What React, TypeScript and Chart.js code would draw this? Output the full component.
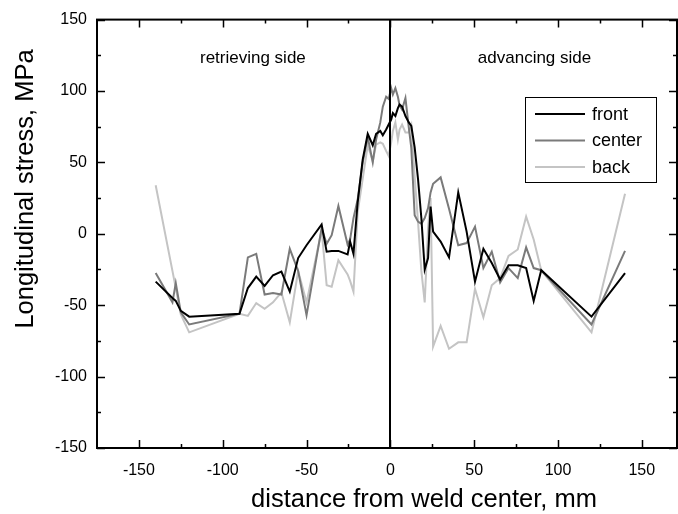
import React, { useEffect, useRef } from "react";
import { Chart, registerables } from "chart.js";

Chart.register(...registerables);

// distance from weld center, mm
const X_MM = [
  -140, -130, -128, -125, -120, -90, -85, -80, -75, -70, -65, -60, -55, -50,
  -41, -38, -35, -31, -25.5, -24, -22, -19.5, -16.5, -13.5, -10.5, -8.5, -6,
  -4.5, -2.5, -1, 0.5, 1.5, 3, 4.5, 5.5, 7, 9, 11, 12.5, 14.5, 16.5, 18.5,
  20.5, 22.5, 24, 25.5, 30, 35, 40.5, 45.5, 50.5, 55.5, 60.5, 65.5, 70.5, 76,
  81, 85.5, 90, 120, 140,
];

// Longitudinal stress, MPa
const FRONT = [
  -33.5, -45, -47, -54, -58, -56, -38, -30, -36.5, -29, -26.5, -40.5, -17, -8,
  6.5, -12.5, -12, -12, -14.5, -5.5, -14, 22, 52, 70, 62, 70, 72,
  69, 73, 76.5, 80, 84.5, 82.5, 88, 90.5, 89, 82.5, 78, 75.5, 60.5, 38.5, 11,
  -25, -17, 19, 1.5, -5.5, -16.5, 29, 1.5, -33.5, -10.5, -20.5, -32, -22, -22,
  -24, -47, -25.5, -58, -27.5,
];

const CENTER = [
  -27.5, -48, -34.5, -55, -63.5, -56, -16.5, -14, -42.5, -41.5, -42.5, -10.5, -26, -57,
  4, -7, -1, 19.5, -7.5, -4, 11, 24, 50, 68, 50, 66, 78,
  89, 96, 94.5, 102, 97.5, 102, 96, 90, 87, 95, 74.5, 60, 13, 8.5, 7,
  11, 18, 29, 35, 39.5, 17.5, -8, -6.5, 5, -24, -12.5, -34, -24, -31,
  -9.5, -24, -25.5, -63.5, -12,
];

const BACK = [
  34, -26, -38, -56.5, -69, -56, -57.5, -48.5, -52.5, -48, -41, -62, -26, -48,
  2.5, -36, -37, -18.5, -28.5, -33, -40.5, 15, 38.5, 62, 51, 62.5, 64,
  63, 58, 54.5, 64, 72, 78, 66, 73, 76.5, 71, 71, 76, 40, 8.5, -26,
  -48, 4, 25, -79, -64.5, -80.5, -76, -76, -38.5, -58.5, -36, -31, -15.5, -11,
  12, -4, -25.5, -69, 28,
];

const SERIES_LABELS = ["front", "center", "back"];
const SERIES_COLORS = ["#000000", "#7a7a7a", "#c4c4c4"];
const X_TICKS = [-150, -100, -50, 0, 50, 100, 150];
const Y_TICKS = [-150, -100, -50, 0, 50, 100, 150];
const SIDE_LABELS = ["retrieving side", "advancing side"];
const SIDE_LABEL_X = [-82, 86];
const SIDE_LABEL_Y = 123;
const X_TITLE = "distance from weld center, mm";
const Y_TITLE = "Longitudinal stress, MPa";

const FONT = "'Liberation Sans', Arial, Helvetica, sans-serif";

const framePlugin = {
  id: "frame",
  afterDatasetsDraw(chart: any) {
    const { ctx, chartArea, scales } = chart;
    const xs = scales.x;
    const ys = scales.y;
    const { left, right, top, bottom } = chartArea;
    ctx.save();
    ctx.strokeStyle = "#000";
    ctx.lineCap = "butt";

    // zero line
    ctx.lineWidth = 2;
    const x0 = Math.round(xs.getPixelForValue(0));
    ctx.beginPath();
    ctx.moveTo(x0, top);
    ctx.lineTo(x0, bottom);
    ctx.stroke();

    // frame
    ctx.lineWidth = 2;
    ctx.strokeRect(left, top, right - left, bottom - top);

    // inward ticks
    ctx.lineWidth = 1.5;
    for (let v = -150; v <= 150; v += 25) {
      const len = v % 50 === 0 ? 8 : 4;
      const px = Math.round(xs.getPixelForValue(v)) + 0.5;
      ctx.beginPath();
      ctx.moveTo(px, bottom);
      ctx.lineTo(px, bottom - len);
      ctx.moveTo(px, top);
      ctx.lineTo(px, top + len);
      ctx.stroke();
      const py = Math.round(ys.getPixelForValue(v)) + 0.5;
      ctx.beginPath();
      ctx.moveTo(left, py);
      ctx.lineTo(left + len, py);
      ctx.moveTo(right, py);
      ctx.lineTo(right - len, py);
      ctx.stroke();
    }

    // side annotations
    ctx.fillStyle = "#000";
    ctx.font = `17px ${FONT}`;
    ctx.textAlign = "center";
    ctx.textBaseline = "middle";
    SIDE_LABELS.forEach((t, i) => {
      ctx.fillText(t, xs.getPixelForValue(SIDE_LABEL_X[i]), ys.getPixelForValue(SIDE_LABEL_Y));
    });

    // legend
    const lx = 525, ly = 97, lw = 131, lh = 85;
    ctx.fillStyle = "#fff";
    ctx.fillRect(lx, ly, lw, lh);
    ctx.lineWidth = 1;
    ctx.strokeStyle = "#000";
    ctx.strokeRect(lx + 0.5, ly + 0.5, lw, lh);
    ctx.font = `18px ${FONT}`;
    ctx.textAlign = "left";
    ctx.textBaseline = "middle";
    SERIES_LABELS.forEach((t, i) => {
      const yy = ly + 17 + i * 26.5;
      ctx.strokeStyle = SERIES_COLORS[i];
      ctx.lineWidth = 2;
      ctx.beginPath();
      ctx.moveTo(lx + 10, yy);
      ctx.lineTo(lx + 60, yy);
      ctx.stroke();
      ctx.fillStyle = "#000";
      ctx.fillText(t, lx + 67, yy + 1);
    });

    // axis titles
    ctx.fillStyle = "#000";
    ctx.font = `25.5px ${FONT}`;
    ctx.textAlign = "center";
    ctx.textBaseline = "alphabetic";
    ctx.fillText(X_TITLE, 424, 507);
    ctx.save();
    ctx.translate(33, 189);
    ctx.rotate(-Math.PI / 2);
    ctx.fillText(Y_TITLE, 0, 0);
    ctx.restore();

    ctx.restore();
  },
};

export default function App() {
  const canvasRef = useRef<HTMLCanvasElement | null>(null);

  useEffect(() => {
    document.body.style.margin = "0";
    const canvas = canvasRef.current;
    if (!canvas) return;
    const mk = (ys: number[]) => X_MM.map((x, i) => ({ x, y: ys[i] }));
    const seriesData = [FRONT, CENTER, BACK];
    const chart = new Chart(canvas, {
      type: "line",
      data: {
        datasets: seriesData.map((d, i) => ({
          label: SERIES_LABELS[i],
          data: mk(d),
          borderColor: SERIES_COLORS[i],
          backgroundColor: SERIES_COLORS[i],
          borderWidth: 2,
          pointRadius: 0,
          tension: 0,
          fill: false,
        })),
      },
      options: {
        animation: false,
        responsive: false,
        devicePixelRatio: 1,
        layout: { padding: { top: 15, right: 1, left: 0, bottom: 0 } },
        plugins: { legend: { display: false }, tooltip: { enabled: false } },
        scales: {
          x: {
            type: "linear",
            min: -175,
            max: 171,
            afterBuildTicks: (s: any) => {
              s.ticks = X_TICKS.map((v) => ({ value: v }));
            },
            afterFit: (s: any) => {
              s.height = 66;
            },
            grid: { display: false, drawTicks: false },
            border: { display: false },
            ticks: {
              font: { size: 16, family: FONT },
              color: "#000",
              padding: 13,
              maxRotation: 0,
            },
          },
          y: {
            type: "linear",
            min: -150,
            max: 150,
            afterBuildTicks: (s: any) => {
              s.ticks = Y_TICKS.map((v) => ({ value: v }));
            },
            afterFit: (s: any) => {
              s.width = 97;
            },
            grid: { display: false, drawTicks: false },
            border: { display: false },
            ticks: {
              font: { size: 16, family: FONT },
              color: "#000",
              padding: 10,
            },
          },
        },
      },
      plugins: [framePlugin],
    });
    return () => chart.destroy();
  }, []);

  return (
    <div style={{ position: "absolute", left: 0, top: 0, width: 678, height: 514, background: "#fff" }}>
      <canvas ref={canvasRef} width={678} height={514} />
    </div>
  );
}
